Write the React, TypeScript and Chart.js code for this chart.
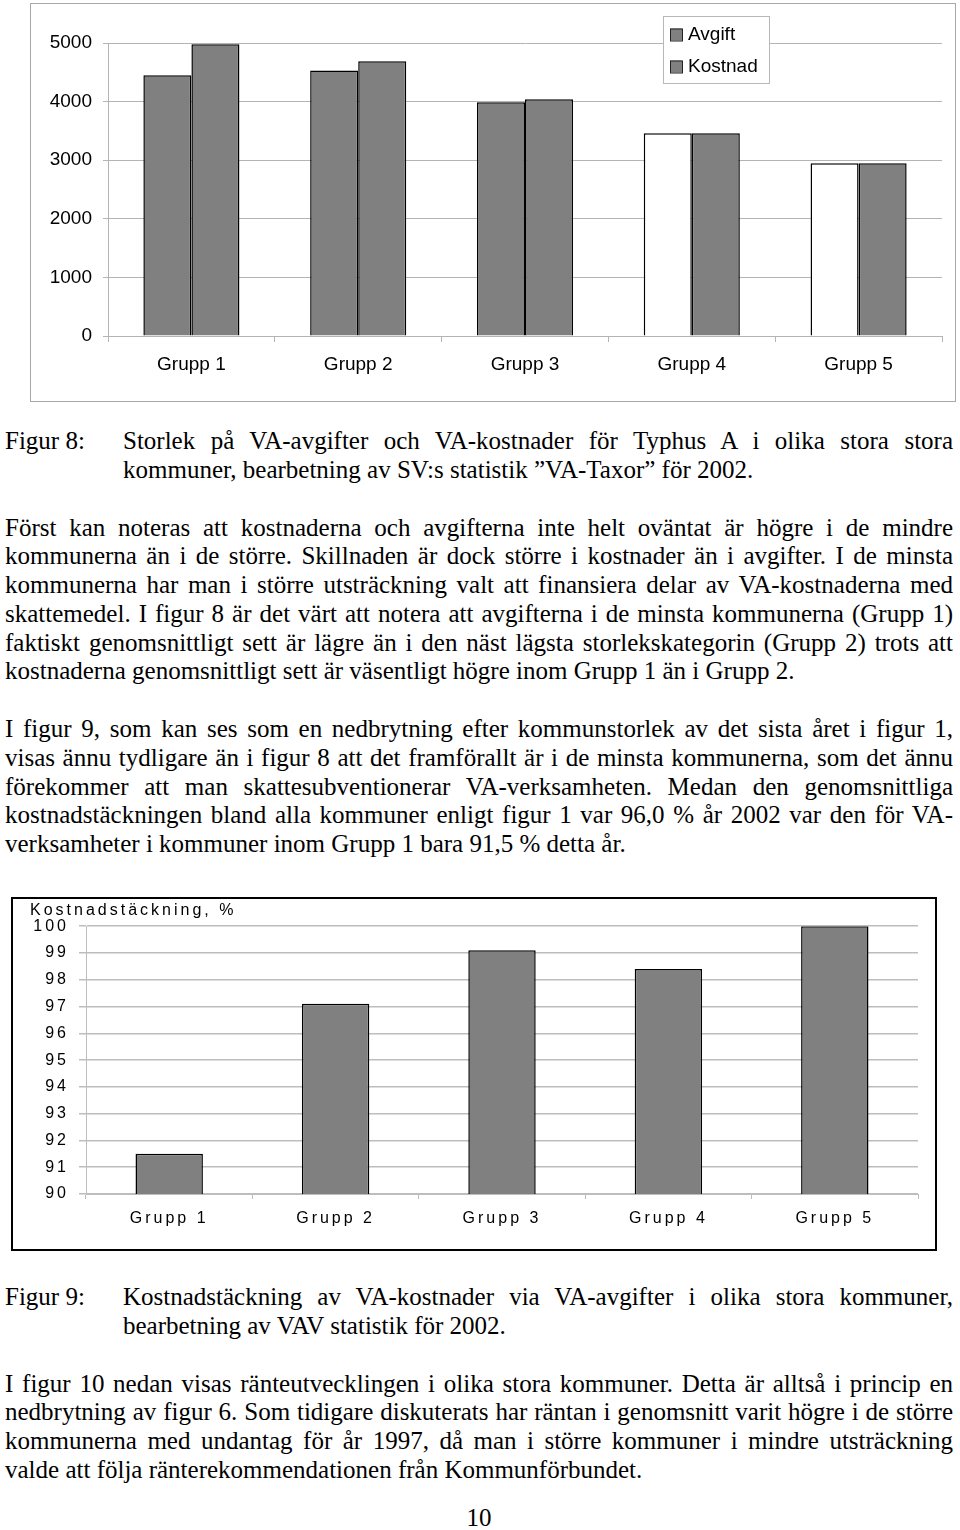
import React, { useEffect, useRef } from "react";
import { Chart, registerables } from "chart.js";

Chart.register(...registerables);

// ---------- data ----------
const groups = ["Grupp 1", "Grupp 2", "Grupp 3", "Grupp 4", "Grupp 5"];
const seriesNames = ["Avgift", "Kostnad"];
const avgift = [4450, 4530, 3990, 3460, 2950];
const kostnad = [4980, 4690, 4040, 3460, 2950];
const fig8Ticks = [0, 1000, 2000, 3000, 4000, 5000];

const coverage = [91.5, 97.1, 99.1, 98.4, 100.0];
const fig9Ticks = [90, 91, 92, 93, 94, 95, 96, 97, 98, 99, 100];
const fig9Title = "Kostnadstäckning, %";

// ---------- styles ----------
const SANS = "'Liberation Sans', Arial, sans-serif";
const SERIF = "'Liberation Serif', 'Times New Roman', serif";
const BAR_GRAY = "#808080";
const avgiftFill = [BAR_GRAY, BAR_GRAY, BAR_GRAY, "#ffffff", "#ffffff"];

const insetLegend = {
  id: "insetLegend",
  afterDraw(chart: any, _args: any, o: any) {
    const ctx = chart.ctx;
    ctx.save();
    ctx.fillStyle = "#ffffff";
    ctx.fillRect(o.x, o.y, o.w, o.h);
    ctx.strokeStyle = "#b8b8b8";
    ctx.lineWidth = 1;
    ctx.strokeRect(o.x + 0.5, o.y + 0.5, o.w, o.h);
    ctx.font = `19px ${SANS}`;
    ctx.textBaseline = "middle";
    ctx.textAlign = "left";
    chart.data.datasets.forEach((ds: any, i: number) => {
      const cy = o.y + o.first + i * o.step;
      ctx.fillStyle = BAR_GRAY;
      ctx.fillRect(o.x + 7, cy - 6, 12, 12);
      ctx.strokeStyle = "#222";
      ctx.strokeRect(o.x + 7.5, cy - 5.5, 12, 12);
      ctx.fillStyle = "#000";
      ctx.fillText(ds.label, o.x + 25, cy);
    });
    ctx.restore();
  },
};

const spacedText = {
  id: "spacedText",
  beforeUpdate(chart: any, _a: any, o: any) {
    (chart.ctx as any).letterSpacing = o.spacing;
  },
  beforeLayout(chart: any, _a: any, o: any) {
    (chart.ctx as any).letterSpacing = o.spacing;
  },
  beforeDraw(chart: any, _a: any, o: any) {
    (chart.ctx as any).letterSpacing = o.spacing;
  },
};

function Fig8Chart() {
  const ref = useRef<HTMLCanvasElement | null>(null);
  useEffect(() => {
    if (!ref.current) return;
    const grid = "#b4b4b4";
    const chart = new Chart(ref.current, {
      type: "bar",
      data: {
        labels: groups,
        datasets: [
          {
            label: seriesNames[0],
            data: avgift,
            backgroundColor: avgiftFill,
            borderColor: "#000",
            borderWidth: 1.5,
            categoryPercentage: 0.576,
            barPercentage: 1,
          },
          {
            label: seriesNames[1],
            data: kostnad,
            backgroundColor: BAR_GRAY,
            borderColor: "#000",
            borderWidth: 1.5,
            categoryPercentage: 0.576,
            barPercentage: 1,
          },
        ],
      },
      options: {
        responsive: false,
        animation: false,
        layout: { padding: { left: 0, right: 13, top: 39, bottom: 0 } },
        plugins: {
          legend: { display: false },
          tooltip: { enabled: false },
          insetLegend: { x: 632, y: 12, w: 106, h: 67, first: 18.5, step: 32 },
        } as any,
        scales: {
          x: {
            grid: { display: true, drawOnChartArea: false, tickLength: 6, color: grid, offset: true },
            border: { display: true, color: grid },
            ticks: { color: "#000", padding: 11, font: { family: SANS, size: 19 } },
            afterFit: (s: any) => {
              s.height = 65;
            },
          },
          y: {
            min: fig8Ticks[0],
            max: fig8Ticks[fig8Ticks.length - 1],
            grid: { color: grid, tickLength: 5 },
            border: { display: true, color: grid },
            ticks: {
              stepSize: fig8Ticks[1] - fig8Ticks[0],
              color: "#000",
              padding: 11,
              font: { family: SANS, size: 19 },
              callback: (v: any) => String(v),
            },
            afterFit: (s: any) => {
              s.width = 77;
            },
          },
        },
      },
      plugins: [insetLegend],
    });
    return () => chart.destroy();
  }, []);
  return <canvas ref={ref} width={924} height={397} style={{ display: "block" }} />;
}

function Fig9Chart() {
  const ref = useRef<HTMLCanvasElement | null>(null);
  useEffect(() => {
    if (!ref.current) return;
    const grid = "#bdbdbd";
    const chart = new Chart(ref.current, {
      type: "bar",
      data: {
        labels: groups,
        datasets: [
          {
            label: fig9Title,
            data: coverage,
            backgroundColor: BAR_GRAY,
            borderColor: "#000",
            borderWidth: 1.5,
            categoryPercentage: 1,
            barPercentage: 0.405,
          },
        ],
      },
      options: {
        responsive: false,
        animation: false,
        layout: { padding: { left: 17, right: 17, top: 0, bottom: 0 } },
        plugins: {
          legend: { display: false },
          tooltip: { enabled: false },
          title: {
            display: true,
            text: fig9Title,
            align: "start",
            color: "#000",
            padding: { top: 2, bottom: 6 },
            font: { family: SANS, size: 16, weight: "normal" },
          },
          spacedText: { spacing: "3px" },
        } as any,
        scales: {
          x: {
            grid: { display: true, drawOnChartArea: false, tickLength: 5, color: grid, offset: true },
            border: { display: true, color: grid },
            ticks: { color: "#000", padding: 10, font: { family: SANS, size: 16 } },
            afterFit: (s: any) => {
              s.height = 55;
            },
          },
          y: {
            min: fig9Ticks[0],
            max: fig9Ticks[fig9Ticks.length - 1],
            grid: { color: grid, tickLength: 7, lineWidth: 1.5 },
            border: { display: true, color: grid },
            ticks: {
              stepSize: fig9Ticks[1] - fig9Ticks[0],
              color: "#000",
              padding: 10,
              font: { family: SANS, size: 16 },
              callback: (v: any) => String(v),
            },
            afterFit: (s: any) => {
              s.width = 56;
            },
          },
        },
      },
      plugins: [spacedText],
    });
    return () => chart.destroy();
  }, []);
  return <canvas ref={ref} width={922} height={350} style={{ display: "block" }} />;
}

const textBase: React.CSSProperties = {
  position: "absolute",
  fontFamily: SERIF,
  fontSize: 25,
  lineHeight: "28.8px",
  color: "#000",
  margin: 0,
};

function Lines({ top, left, width, lines }: { top: number; left: number; width: number; lines: string[] }) {
  return (
    <div style={{ ...textBase, top, left, width }}>
      {lines.map((l, i) => {
        const last = i === lines.length - 1;
        return (
          <div
            key={i}
            style={{
              textAlign: last ? "left" : "justify",
              textAlignLast: last ? "left" : "justify",
              whiteSpace: "nowrap",
            } as React.CSSProperties}
          >
            {l}
          </div>
        );
      })}
    </div>
  );
}

export default function App() {
  return (
    <div style={{ position: "absolute", left: 0, top: 0, width: 960, height: 1530, background: "#fff", overflow: "hidden" }}>
      <div
        style={{
          position: "absolute",
          left: 30,
          top: 3,
          width: 926,
          height: 399,
          border: "1px solid #a8a8a8",
          boxSizing: "border-box",
          background: "#fff",
        }}
      >
        <Fig8Chart />
      </div>

      <div style={{ ...textBase, top: 427, left: 5 }}>Figur 8:</div>
      <Lines
        top={427}
        left={123}
        width={830}
        lines={[
          "Storlek på VA-avgifter och VA-kostnader för Typhus A i olika stora stora",
          "kommuner, bearbetning av SV:s statistik ”VA-Taxor” för 2002.",
        ]}
      />

      <Lines
        top={513.5}
        left={5}
        width={948}
        lines={[
          "Först kan noteras att kostnaderna och avgifterna inte helt oväntat är högre i de mindre",
          "kommunerna än i de större. Skillnaden är dock större i kostnader än i avgifter. I de minsta",
          "kommunerna har man i större utsträckning valt att finansiera delar av VA-kostnaderna med",
          "skattemedel. I figur 8 är det värt att notera att avgifterna i de minsta kommunerna (Grupp 1)",
          "faktiskt genomsnittligt sett är lägre än i den näst lägsta storlekskategorin (Grupp 2) trots att",
          "kostnaderna genomsnittligt sett är väsentligt högre inom Grupp 1 än i Grupp 2.",
        ]}
      />

      <Lines
        top={715}
        left={5}
        width={948}
        lines={[
          "I figur 9, som kan ses som en nedbrytning efter kommunstorlek av det sista året i figur 1,",
          "visas ännu tydligare än i figur 8 att det framförallt är i de minsta kommunerna, som det ännu",
          "förekommer att man skattesubventionerar VA-verksamheten. Medan den genomsnittliga",
          "kostnadstäckningen bland alla kommuner enligt figur 1 var 96,0 % år 2002 var den för VA-",
          "verksamheter i kommuner inom Grupp 1 bara 91,5 % detta år.",
        ]}
      />

      <div
        style={{
          position: "absolute",
          left: 11,
          top: 897,
          width: 926,
          height: 354,
          border: "2px solid #000",
          boxSizing: "border-box",
          background: "#fff",
        }}
      >
        <Fig9Chart />
      </div>

      <div style={{ ...textBase, top: 1283, left: 5 }}>Figur 9:</div>
      <Lines
        top={1283}
        left={123}
        width={830}
        lines={[
          "Kostnadstäckning av VA-kostnader via VA-avgifter i olika stora kommuner,",
          "bearbetning av VAV statistik för 2002.",
        ]}
      />

      <Lines
        top={1369.5}
        left={5}
        width={948}
        lines={[
          "I figur 10 nedan visas ränteutvecklingen i olika stora kommuner. Detta är alltså i princip en",
          "nedbrytning av figur 6. Som tidigare diskuterats har räntan i genomsnitt varit högre i de större",
          "kommunerna med undantag för år 1997, då man i större kommuner i mindre utsträckning",
          "valde att följa ränterekommendationen från Kommunförbundet.",
        ]}
      />

      <div style={{ ...textBase, top: 1504, left: 5, width: 948, textAlign: "center" }}>10</div>
    </div>
  );
}
